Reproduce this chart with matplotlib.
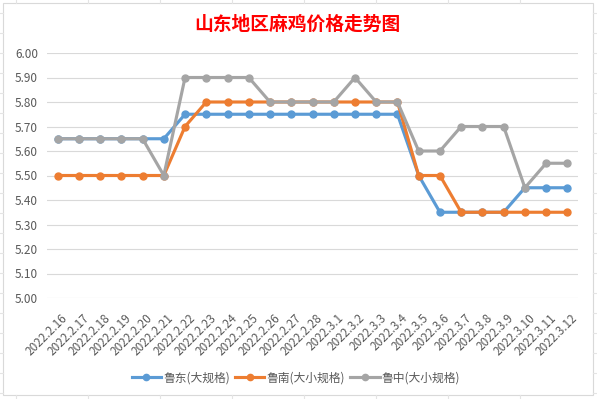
import matplotlib
matplotlib.use("Agg")
import matplotlib.pyplot as plt
from matplotlib.lines import Line2D
from matplotlib.patches import Rectangle
import matplotlib.transforms as mtransforms

plt.rcParams['font.family'] = ['Noto Sans CJK SC', 'DejaVu Sans']

dates = ["2022.2.16", "2022.2.17", "2022.2.18", "2022.2.19", "2022.2.20",
         "2022.2.21", "2022.2.22", "2022.2.23", "2022.2.24", "2022.2.25",
         "2022.2.26", "2022.2.27", "2022.2.28", "2022.3.1", "2022.3.2",
         "2022.3.3", "2022.3.4", "2022.3.5", "2022.3.6", "2022.3.7",
         "2022.3.8", "2022.3.9", "2022.3.10", "2022.3.11", "2022.3.12"]

ludong = [5.65, 5.65, 5.65, 5.65, 5.65, 5.65, 5.75, 5.75, 5.75, 5.75,
          5.75, 5.75, 5.75, 5.75, 5.75, 5.75, 5.75, 5.50, 5.35, 5.35,
          5.35, 5.35, 5.45, 5.45, 5.45]
lunan = [5.50, 5.50, 5.50, 5.50, 5.50, 5.50, 5.70, 5.80, 5.80, 5.80,
         5.80, 5.80, 5.80, 5.80, 5.80, 5.80, 5.80, 5.50, 5.50, 5.35,
         5.35, 5.35, 5.35, 5.35, 5.35]
luzhong = [5.65, 5.65, 5.65, 5.65, 5.65, 5.50, 5.90, 5.90, 5.90, 5.90,
           5.80, 5.80, 5.80, 5.80, 5.90, 5.80, 5.80, 5.60, 5.60, 5.70,
           5.70, 5.70, 5.45, 5.55, 5.55]

series_names = ["鲁东(大规格)", "鲁南(大小规格)", "鲁中(大小规格)"]
colors = ["#5B9BD5", "#ED7D31", "#A5A5A5"]
yticks = [5.00, 5.10, 5.20, 5.30, 5.40, 5.50, 5.60, 5.70, 5.80, 5.90, 6.00]
title = "山东地区麻鸡价格走势图"

W, H = 597, 399
fig = plt.figure(figsize=(W / 100, H / 100), dpi=100)
fig.patch.set_facecolor("white")

# spreadsheet cell lines outside chart
cell_col = "#E4E4E4"
for xv in [16, 88, 160, 232, 304, 376, 448, 520]:
    fig.add_artist(Line2D([xv / W, xv / W], [1 - 3 / H, 1.0], transform=fig.transFigure,
                          color=cell_col, lw=0.8))
    fig.add_artist(Line2D([xv / W, xv / W], [0, 1 - 395 / H], transform=fig.transFigure,
                          color=cell_col, lw=0.8))
for yv in range(13, 399, 20):
    fig.add_artist(Line2D([0, 3 / W], [1 - yv / H, 1 - yv / H], transform=fig.transFigure,
                          color=cell_col, lw=0.8))
    fig.add_artist(Line2D([593 / W, 1], [1 - yv / H, 1 - yv / H], transform=fig.transFigure,
                          color=cell_col, lw=0.8))
# chart border
fig.add_artist(Rectangle((3 / W, 1 - 395 / H), 590 / W, 392 / H, transform=fig.transFigure,
                         fill=False, edgecolor="#D9D9D9", lw=0.8))

ax = fig.add_axes([47 / W, 1 - 298 / H, (578 - 47) / W, (298 - 53) / H])
ax.set_facecolor("none")
x = list(range(len(dates)))
data = [ludong, lunan, luzhong]
for i, (vals, name, c) in enumerate(zip(data, series_names, colors)):
    ax.plot(x, vals, color=c, lw=2.25, marker="o", markersize=5,
            markeredgecolor=c, markerfacecolor=c, label=name, zorder=3 + i,
            solid_joinstyle="round")

ax.set_xlim(-0.5, len(dates) - 0.5)
ax.set_ylim(5.0, 6.0)
ax.set_yticks(yticks)
ax.set_yticklabels([f"{v:.2f}" for v in yticks])
ax.grid(axis="y", color="#D9D9D9", lw=0.8)
ax.set_axisbelow(True)
for s in ax.spines.values():
    s.set_visible(False)
ax.tick_params(axis="y", length=0, pad=6.5, labelsize=8.5, labelcolor="#595959")
ax.tick_params(axis="x", length=0, pad=13, labelsize=8.5, labelcolor="#595959")
ax.set_xticks(x)
ax.set_xticklabels(dates, rotation=45, ha="right", va="center", rotation_mode="anchor")
offset = mtransforms.ScaledTranslation(8 / 100, 0, fig.dpi_scale_trans)
for lab in ax.get_xticklabels():
    lab.set_transform(lab.get_transform() + offset)

fig.text(297 / W, 1 - 24 / H, title, ha="center", va="center", fontsize=13.5,
         fontweight="bold", color="#FF0000")

leg = fig.legend(loc="center", bbox_to_anchor=(296 / W, 1 - 378 / H), ncol=3,
                 frameon=False, fontsize=8.5, handlelength=2.5, handletextpad=0.2,
                 columnspacing=0.4, markerscale=0.9)
for t in leg.get_texts():
    t.set_color("#595959")

fig.savefig("out.png", dpi=100, facecolor="white")
